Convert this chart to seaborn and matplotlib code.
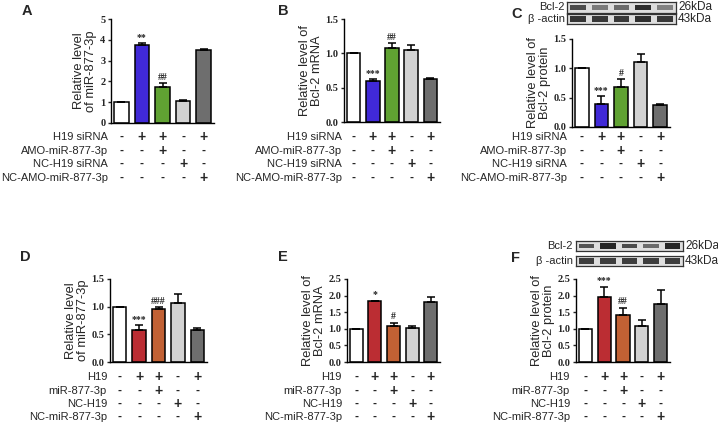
import numpy as np
import pandas as pd
import matplotlib
matplotlib.use("Agg")
import matplotlib.pyplot as plt
import matplotlib.transforms as mtransforms
import seaborn as sns

sns.set_theme(style="ticks")
plt.rcParams['font.family'] = ['Liberation Sans', 'DejaVu Sans']
SERIF = ['Liberation Serif', 'DejaVu Serif']

# ================= DATA =================
groups = ['G1', 'G2', 'G3', 'G4', 'G5']

A_vals = [1.00, 3.75, 1.75, 1.08, 3.52]
A_err = [0.00, 0.08, 0.15, 0.02, 0.05]
A_marks = ['', '**', '##', '', '']

B_vals = [1.00, 0.60, 1.08, 1.05, 0.62]
B_err = [0.00, 0.02, 0.07, 0.07, 0.02]
B_marks = ['', '***', '##', '', '']

C_vals = [1.00, 0.40, 0.68, 1.11, 0.38]
C_err = [0.00, 0.12, 0.14, 0.14, 0.02]
C_marks = ['', '***', '#', '', '']

D_vals = [1.00, 0.57, 0.95, 1.06, 0.57]
D_err = [0.00, 0.10, 0.04, 0.16, 0.05]
D_marks = ['', '***', '###', '', '']

E_vals = [1.00, 1.83, 1.08, 1.03, 1.80]
E_err = [0.00, 0.02, 0.10, 0.05, 0.15]
E_marks = ['', '*', '#', '', '']

F_vals = [1.00, 1.97, 1.42, 1.08, 1.75]
F_err = [0.00, 0.30, 0.22, 0.20, 0.43]
F_marks = ['', '***', '##', '', '']

# treatment tables
top_rows = ['H19 siRNA', 'AMO-miR-877-3p', 'NC-H19 siRNA', 'NC-AMO-miR-877-3p']
bottom_rows = ['H19', 'miR-877-3p', 'NC-H19', 'NC-miR-877-3p']
signs = [['-', '+', '+', '-', '+'],
         ['-', '-', '+', '-', '-'],
         ['-', '-', '-', '+', '-'],
         ['-', '-', '-', '-', '+']]

# western blot band strength (0..1)
C_bcl2 = [0.75, 0.45, 0.55, 0.95, 0.40]
C_actin = [0.90, 0.88, 0.88, 0.95, 0.88]
F_bcl2 = [0.70, 1.00, 0.75, 0.55, 1.00]
F_actin = [0.85, 0.85, 0.85, 0.85, 0.85]

pal_kd = ['#ffffff', '#2a0cf5', '#5db51f', '#d2d2d2', '#6e6e6e']
pal_oe = ['#ffffff', '#d2161d', '#d9581d', '#d2d2d2', '#6e6e6e']

# ================= LAYOUT =================
W, H = 718, 426
fig = plt.figure(figsize=(W / 100, H / 100), dpi=100)
fig.patch.set_facecolor('white')


def rect(l, t, r, b):
    return [l / W, 1 - b / H, (r - l) / W, (b - t) / H]


def fy(y):
    return 1 - y / H


def bar_panel(box, vals, err, marks, pal, ylim, yticks, ylabel, rows, row_y, label_x):
    ax = fig.add_axes(rect(*box))
    df = pd.DataFrame({'g': groups, 'v': vals})
    sns.barplot(data=df, x='g', y='v', hue='g', palette=pal, legend=False,
                edgecolor='black', linewidth=1.1, width=0.7, ax=ax)
    xs = np.arange(len(vals))
    ax.errorbar(xs, vals, yerr=[np.zeros(len(vals)), err], fmt='none',
                ecolor='black', elinewidth=1.1, capsize=2.6, capthick=1.1)
    for x, v, e, m in zip(xs, vals, err, marks):
        if m:
            ax.annotate(m, (x, v + e), xytext=(0, 1), textcoords='offset points',
                        ha='center', va='bottom', fontsize=7,
                        family=SERIF, weight='bold', color='#222222')
    ax.set_xlim(-0.5, len(vals) - 0.5)
    ax.set_ylim(*ylim)
    ax.set_yticks(yticks)
    ax.set_yticklabels([f'{t:g}' if ylim[1] == 5 else f'{t:.1f}' for t in yticks])
    for lab in ax.get_yticklabels():
        lab.set_fontfamily(SERIF)
        lab.set_fontweight('bold')
        lab.set_fontsize(7.5)
    ax.set_xticks([])
    ax.set_xlabel('')
    ax.set_ylabel(ylabel, fontsize=9.3, labelpad=2, linespacing=1.0)
    ax.tick_params(axis='y', direction='out', length=2.5, width=1, pad=1.5)
    for s in ['top', 'right']:
        ax.spines[s].set_visible(False)
    for s in ['left', 'bottom']:
        ax.spines[s].set_linewidth(1)
        ax.spines[s].set_color('black')
    ax.set_facecolor('none')
    # treatment table
    tr = mtransforms.blended_transform_factory(ax.transData, fig.transFigure)
    for i, (name, y) in enumerate(zip(rows, row_y)):
        fig.text(label_x / W, fy(y), name, ha='right', va='center', fontsize=8)
        for x, s in zip(xs, signs[i]):
            ax.text(x, fy(y), s, transform=tr, ha='center', va='center',
                    fontsize=10 if s == '+' else 8.5, weight='bold', clip_on=False)
    return ax


def blot(box_top, box_bot, strength_top, strength_bot, lbl_right, kda_left):
    for box, strength, name, kda in [(box_top, strength_top, 'Bcl-2', '26kDa'),
                                      (box_bot, strength_bot, 'β -actin', '43kDa')]:
        bx = fig.add_axes(rect(*box))
        xs = np.arange(len(strength))
        thick = [0.25 + 0.3 * s for s in strength]
        cols = [plt.cm.gray(0.75 - 0.6 * s) for s in strength]
        bx.bar(xs, thick, bottom=[0.5 - t / 2 for t in thick], width=0.72,
               color=cols, edgecolor='none')
        bx.set_xlim(-0.5, len(strength) - 0.5)
        bx.set_ylim(0, 1)
        bx.set_facecolor('#dedede')
        bx.set_xticks([])
        bx.set_yticks([])
        for s in bx.spines.values():
            s.set_color('#333333')
            s.set_linewidth(0.9)
        yc = (box[1] + box[3]) / 2
        fig.text(lbl_right / W, fy(yc), name, ha='right', va='center', fontsize=8)
        fig.text(kda_left / W, fy(yc), kda, ha='left', va='center', fontsize=8.5)


top_y = [137, 151, 164, 178]
bot_y = [377, 391, 404, 417]

bar_panel((111, 19, 214, 123), A_vals, A_err, A_marks, pal_kd, (0, 5), [0, 1, 2, 3, 4, 5],
          'Relative level\nof miR-877-3p', top_rows, top_y, 108)
bar_panel((344, 19, 440, 122), B_vals, B_err, B_marks, pal_kd, (0, 1.5), [0, 0.5, 1.0, 1.5],
          'Relative level of\nBcl-2 mRNA', top_rows, top_y, 342)
bar_panel((572, 39, 670, 127), C_vals, C_err, C_marks, pal_kd, (0, 1.5), [0, 0.5, 1.0, 1.5],
          'Relative level of\nBcl-2 protein', top_rows, top_y, 567)
bar_panel((110, 279, 207, 362), D_vals, D_err, D_marks, pal_oe, (0, 1.5), [0, 0.5, 1.0, 1.5],
          'Relative level\nof miR-877-3p', bottom_rows, bot_y, 107)
bar_panel((347, 279, 440, 362), E_vals, E_err, E_marks, pal_oe, (0, 2.5),
          [0, 0.5, 1.0, 1.5, 2.0, 2.5], 'Relative level of\nBcl-2 mRNA', bottom_rows, bot_y, 342)
bar_panel((576, 279, 670, 362), F_vals, F_err, F_marks, pal_oe, (0, 2.5),
          [0, 0.5, 1.0, 1.5, 2.0, 2.5], 'Relative level of\nBcl-2 protein', bottom_rows, bot_y, 570)

blot((567, 2, 676, 13), (567, 14, 676, 24), C_bcl2, C_actin, 565, 678)
blot((576, 241, 683, 251), (576, 256, 683, 266), F_bcl2, F_actin, 573, 685)

# panel letters
for letter, (x, y) in zip('ABCDEF', [(27, 11), (283, 11), (517, 14),
                                     (25, 257), (283, 257), (516, 258)]):
    fig.text(x / W, fy(y), letter, ha='center', va='center', fontsize=10.5, weight='bold')

fig.savefig('out.png', dpi=100)
